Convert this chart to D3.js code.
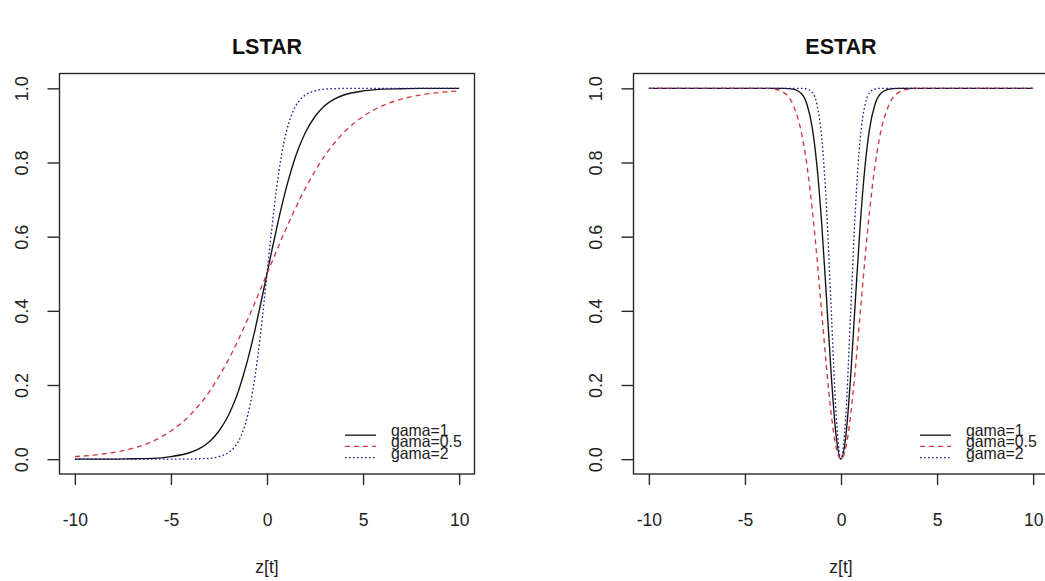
<!DOCTYPE html>
<html>
<head>
<meta charset="utf-8">
<script src="https://cdn.jsdelivr.net/npm/d3@7"></script>
<style>
  html, body { margin: 0; padding: 0; background: #ffffff; }
  svg { display: block; font-family: "Liberation Sans", Arial, sans-serif; }
</style>
</head>
<body>
<svg id="chart" width="1045" height="581"></svg>
<script>
// Threshold variable grid (denser near zero where the transitions are steep)
const zValues = [-10, -9, -8, -7, -6, -5, -4, -3.5, -3,
  -2.5, -2, -1.75, -1.5, -1.25, -1, -0.75, -0.5, -0.25,
  0,
  0.25, 0.5, 0.75, 1, 1.25, 1.5, 1.75, 2, 2.5,
  3, 3.5, 4, 5, 6, 7, 8, 9, 10];

// Logistic transition G(z) for each smoothness parameter
const lstarGama1 = [0.000, 0.000, 0.000, 0.001, 0.002, 0.007, 0.018, 0.029, 0.047,
  0.076, 0.119, 0.148, 0.182, 0.223, 0.269, 0.321, 0.378, 0.438,
  0.500,
  0.562, 0.622, 0.679, 0.731, 0.777, 0.818, 0.852, 0.881, 0.924,
  0.953, 0.971, 0.982, 0.993, 0.998, 0.999, 1.000, 1.000, 1.000];
const lstarGama05 = [0.007, 0.011, 0.018, 0.029, 0.047, 0.076, 0.119, 0.148, 0.182,
  0.223, 0.269, 0.294, 0.321, 0.349, 0.378, 0.407, 0.438, 0.469,
  0.500,
  0.531, 0.562, 0.593, 0.622, 0.651, 0.679, 0.706, 0.731, 0.777,
  0.818, 0.852, 0.881, 0.924, 0.953, 0.971, 0.982, 0.989, 0.993];
const lstarGama2 = [0.000, 0.000, 0.000, 0.000, 0.000, 0.000, 0.000, 0.001, 0.002,
  0.007, 0.018, 0.029, 0.047, 0.076, 0.119, 0.182, 0.269, 0.378,
  0.500,
  0.622, 0.731, 0.818, 0.881, 0.924, 0.953, 0.971, 0.982, 0.993,
  0.998, 0.999, 1.000, 1.000, 1.000, 1.000, 1.000, 1.000, 1.000];

// Exponential transition G(z) for each smoothness parameter
const estarGama1 = [1.000, 1.000, 1.000, 1.000, 1.000, 1.000, 1.000, 1.000, 1.000,
  0.998, 0.982, 0.953, 0.895, 0.790, 0.632, 0.430, 0.221, 0.061,
  0.000,
  0.061, 0.221, 0.430, 0.632, 0.790, 0.895, 0.953, 0.982, 0.998,
  1.000, 1.000, 1.000, 1.000, 1.000, 1.000, 1.000, 1.000, 1.000];
const estarGama05 = [1.000, 1.000, 1.000, 1.000, 1.000, 1.000, 1.000, 0.998, 0.989,
  0.956, 0.865, 0.784, 0.675, 0.542, 0.393, 0.245, 0.118, 0.031,
  0.000,
  0.031, 0.118, 0.245, 0.393, 0.542, 0.675, 0.784, 0.865, 0.956,
  0.989, 0.998, 1.000, 1.000, 1.000, 1.000, 1.000, 1.000, 1.000];
const estarGama2 = [1.000, 1.000, 1.000, 1.000, 1.000, 1.000, 1.000, 1.000, 1.000,
  1.000, 1.000, 0.998, 0.989, 0.956, 0.865, 0.675, 0.393, 0.118,
  0.000,
  0.118, 0.393, 0.675, 0.865, 0.956, 0.989, 0.998, 1.000, 1.000,
  1.000, 1.000, 1.000, 1.000, 1.000, 1.000, 1.000, 1.000, 1.000];

const xTicks = [-10, -5, 0, 5, 10];
const yTicks = [0, 0.2, 0.4, 0.6, 0.8, 1.0];
const legendLabels = ["gama=1", "gama=0.5", "gama=2"];
const panelTitles = ["LSTAR", "ESTAR"];
const xLabel = "z[t]";

// Line styles shared by both panels and legends
const styles = [
  { color: "#111111", dash: null },
  { color: "#d33a40", dash: "5,4" },
  { color: "#1c1c98", dash: "1.6,2.4" }
];

const panels = [
  { title: panelTitles[0], series: [lstarGama1, lstarGama05, lstarGama2], left: 59.5, right: 474.5, legendX: 345 },
  { title: panelTitles[1], series: [estarGama1, estarGama05, estarGama2], left: 633.5, right: 1048.5, legendX: 920 }
];

const svg = d3.select("#chart");
const boxTop = 73.5, boxBottom = 474;
const fontSize = 17.5;

panels.forEach(p => {
  const g = svg.append("g");
  // plotting region padded by 4% on each side of the data range
  const x = d3.scaleLinear().domain([-10.8, 10.8]).range([p.left, p.right]);
  const y = d3.scaleLinear().domain([-0.04, 1.04]).range([boxBottom, boxTop]);

  const line = d3.line()
    .x((d, i) => x(zValues[i]))
    .y(d => y(d))
    .curve(d3.curveMonotoneX);

  p.series.forEach((vals, k) => {
    g.append("path")
      .datum(vals)
      .attr("d", line)
      .attr("fill", "none")
      .attr("stroke", styles[k].color)
      .attr("stroke-width", 1.35)
      .attr("stroke-dasharray", styles[k].dash);
  });

  // frame
  g.append("rect")
    .attr("x", p.left).attr("y", boxTop)
    .attr("width", p.right - p.left).attr("height", boxBottom - boxTop)
    .attr("fill", "none").attr("stroke", "#2a2a2a").attr("stroke-width", 1.4);

  // x axis (plain hyphen for negative labels)
  const xAxis = g.append("g")
    .attr("transform", `translate(0,${boxBottom})`)
    .call(d3.axisBottom(x).tickValues(xTicks).tickSize(11).tickPadding(0).tickFormat(d => String(d)));
  xAxis.select(".domain").remove();
  xAxis.selectAll(".tick line").attr("stroke", "#2a2a2a").attr("stroke-width", 1.4);
  xAxis.selectAll(".tick text")
    .attr("y", 52).attr("dy", null)
    .attr("font-size", fontSize).attr("font-family", null).attr("fill", "#222");

  // y axis with rotated labels
  const yAxis = g.append("g")
    .attr("transform", `translate(${p.left},0)`)
    .call(d3.axisLeft(y).tickValues(yTicks).tickSize(12).tickFormat(d3.format(".1f")));
  yAxis.select(".domain").remove();
  yAxis.selectAll(".tick line").attr("stroke", "#2a2a2a").attr("stroke-width", 1.4);
  yAxis.selectAll(".tick text")
    .attr("transform", "rotate(-90)")
    .attr("x", 0).attr("y", -31.5).attr("dy", null)
    .attr("text-anchor", "middle")
    .attr("font-size", fontSize + 0.5).attr("font-family", null).attr("fill", "#222");

  // title
  g.append("text")
    .attr("x", (p.left + p.right) / 2).attr("y", 54)
    .attr("text-anchor", "middle")
    .attr("font-size", 21.5).attr("font-weight", "bold").attr("fill", "#111")
    .text(p.title);

  // x label
  g.append("text")
    .attr("x", (p.left + p.right) / 2).attr("y", 573)
    .attr("text-anchor", "middle")
    .attr("font-size", fontSize).attr("fill", "#222")
    .text(xLabel);

  // legend: tightly stacked rows
  const lg = g.append("g");
  legendLabels.forEach((lab, k) => {
    const ry = 435.2 + k * 11.2;
    lg.append("line")
      .attr("x1", p.legendX).attr("x2", p.legendX + 31)
      .attr("y1", ry).attr("y2", ry)
      .attr("stroke", styles[k].color).attr("stroke-width", 1.3)
      .attr("stroke-dasharray", styles[k].dash);
    lg.append("text")
      .attr("transform", `translate(${p.legendX + 46},${ry + 1}) scale(0.96,1)`)
      .attr("font-size", 16.5).attr("fill", "#222")
      .text(lab);
  });
});
</script>
</body>
</html>
